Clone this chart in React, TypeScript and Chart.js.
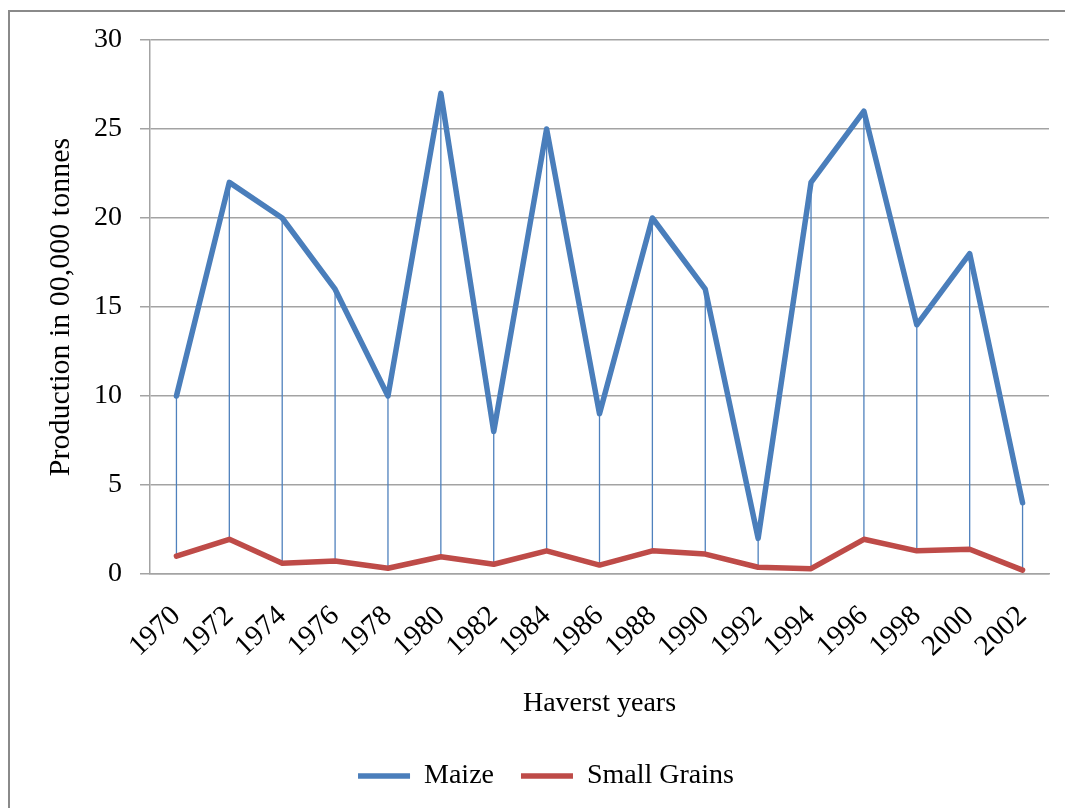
import React, { useEffect, useRef } from "react";
import { Chart, registerables } from "chart.js";

Chart.register(...registerables);

const years: string[] = [
  "1970", "1972", "1974", "1976", "1978", "1980", "1982", "1984", "1986",
  "1988", "1990", "1992", "1994", "1996", "1998", "2000", "2002",
];
const maize: number[] = [10, 22, 20, 16, 10, 27, 8, 25, 9, 20, 16, 2, 22, 26, 14, 18, 4];
const smallGrains: number[] = [1.0, 1.95, 0.6, 0.73, 0.32, 0.97, 0.55, 1.3, 0.5, 1.3, 1.12, 0.38, 0.3, 1.95, 1.3, 1.39, 0.22];
const yTicks: number[] = [0, 5, 10, 15, 20, 25, 30];

const SERIF = "'Liberation Serif', 'Times New Roman', serif";
const BLUE = "#4A7EBB";
const RED = "#BE4B48";
const GRID = "#a3a3a3";

const hiLoPlugin = {
  id: "hiLoLines",
  beforeDatasetsDraw(chart: any) {
    const { ctx } = chart;
    const xs = chart.scales.x;
    const ys = chart.scales.y;
    ctx.save();
    ctx.strokeStyle = "#4F81BD";
    ctx.lineWidth = 1.3;
    years.forEach((_, i) => {
      const px = xs.getPixelForValue(i);
      ctx.beginPath();
      ctx.moveTo(px, ys.getPixelForValue(maize[i]));
      ctx.lineTo(px, ys.getPixelForValue(smallGrains[i]));
      ctx.stroke();
    });
    ctx.restore();
  },
};

export default function App() {
  const canvasRef = useRef<HTMLCanvasElement | null>(null);

  useEffect(() => {
    if (!canvasRef.current) return;
    const chart = new Chart(canvasRef.current, {
      type: "line",
      data: {
        labels: years,
        datasets: [
          {
            label: "Maize",
            data: maize,
            borderColor: BLUE,
            backgroundColor: BLUE,
            borderWidth: 5.5,
            pointRadius: 0,
            tension: 0,
            borderJoinStyle: "round",
            borderCapStyle: "round",
          },
          {
            label: "Small Grains",
            data: smallGrains,
            borderColor: RED,
            backgroundColor: RED,
            borderWidth: 5.5,
            pointRadius: 0,
            tension: 0,
            borderJoinStyle: "round",
            borderCapStyle: "round",
          },
        ],
      },
      options: {
        animation: false,
        responsive: false,
        devicePixelRatio: 1,
        layout: { padding: { left: 43, right: 16, top: 40, bottom: 8 } },
        plugins: {
          tooltip: { enabled: false },
          legend: {
            position: "bottom",
            labels: {
              usePointStyle: true,
              pointStyle: "line",
              pointStyleWidth: 52,
              padding: 27,
              color: "#000",
              font: { family: SERIF, size: 28 },
            },
          },
        },
        scales: {
          x: {
            offset: true,
            grid: { display: false, drawTicks: false },
            border: { display: true, color: GRID, width: 1.5 },
            ticks: {
              minRotation: 43,
              maxRotation: 43,
              autoSkip: false,
              padding: 25,
              color: "#000",
              font: { family: SERIF, size: 29 },
            },
            title: {
              display: true,
              text: "Haverst years",
              color: "#000",
              font: { family: SERIF, size: 28 },
              padding: { top: 0, bottom: 15 },
            },
            afterFit: (scale: any) => {
              scale.height = 161;
              scale.paddingRight = 0;
              scale.paddingLeft = 0;
            },
          },
          y: {
            min: 0,
            max: 30,
            afterBuildTicks: (scale: any) => {
              scale.ticks = yTicks.map((v) => ({ value: v }));
            },
            grid: { color: GRID, lineWidth: 1.5, tickLength: 10, drawTicks: true },
            border: { display: true, color: GRID, width: 1.5 },
            ticks: {
              padding: 18,
              color: "#000",
              font: { family: SERIF, size: 28 },
            },
            title: {
              display: true,
              text: "Production in 00,000 tonnes",
              color: "#000",
              font: { family: SERIF, size: 30 },
              padding: { top: 0, bottom: 0 },
            },
            afterFit: (scale: any) => {
              scale.width = 107;
            },
          },
        },
      },
      plugins: [hiLoPlugin],
    });
    return () => chart.destroy();
  }, []);

  return (
    <div
      style={{
        position: "fixed",
        left: 0,
        top: 0,
        width: 1065,
        height: 808,
        overflow: "hidden",
        background: "#fff",
      }}
    >
      <div
        style={{
          position: "absolute",
          left: 8,
          top: 10,
          width: 1200,
          height: 1000,
          border: "2px solid #8a8a8a",
          boxSizing: "border-box",
        }}
      />
      <canvas
        ref={canvasRef}
        width={1065}
        height={808}
        style={{ position: "absolute", left: 0, top: 0, width: 1065, height: 808 }}
      />
    </div>
  );
}
